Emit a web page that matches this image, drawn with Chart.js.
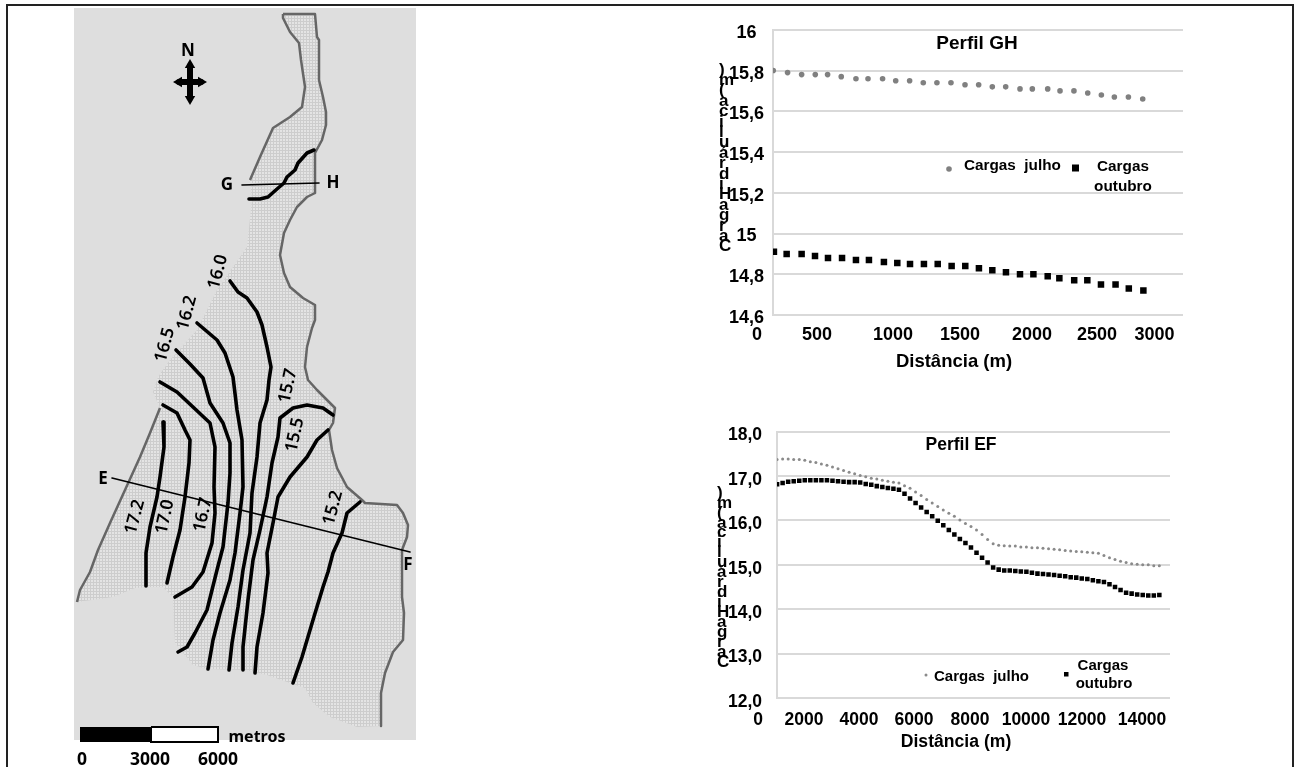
<!DOCTYPE html>
<html lang="pt">
<head>
<meta charset="utf-8">
<title>Perfis de carga hidráulica</title>
<script src="https://cdn.jsdelivr.net/npm/chart.js@4/dist/chart.umd.min.js"></script>
<style>
  body { margin: 0; background: #fff; overflow: hidden; }
  #moldura { position: absolute; left: 6px; top: 4px; width: 1284px; height: 770px; border: 2px solid #222; box-sizing: content-box; }
  canvas { position: absolute; }
  #mapa { left: 60px; top: 6px; }
  #perfilGH { left: 690px; top: 10px; }
  #perfilEF { left: 690px; top: 406px; }
</style>
</head>
<body>
<div id="moldura"></div>
<canvas id="mapa" width="360" height="761"></canvas>
<canvas id="perfilGH" width="560" height="370"></canvas>
<canvas id="perfilEF" width="560" height="360"></canvas>
<script>
// Perfil GH
const ghDistJulho = [123, 231, 337, 440, 533, 636, 747, 838, 948, 1047, 1152, 1255, 1358, 1464, 1570, 1673, 1776, 1877, 1985, 2078, 2194, 2287, 2392, 2496, 2599, 2697, 2803, 2911];
const ghCargaJulho = [15.80, 15.79, 15.78, 15.78, 15.78, 15.77, 15.76, 15.76, 15.76, 15.75, 15.75, 15.74, 15.74, 15.74, 15.73, 15.73, 15.72, 15.72, 15.71, 15.71, 15.71, 15.70, 15.70, 15.69, 15.68, 15.67, 15.67, 15.66];
const ghDistOutubro = [128, 224, 337, 438, 536, 642, 747, 845, 958, 1059, 1155, 1260, 1364, 1469, 1572, 1675, 1776, 1879, 1985, 2086, 2194, 2282, 2394, 2493, 2596, 2706, 2806, 2916];
const ghCargaOutubro = [14.91, 14.90, 14.90, 14.89, 14.88, 14.88, 14.87, 14.87, 14.86, 14.855, 14.85, 14.85, 14.85, 14.84, 14.84, 14.83, 14.82, 14.81, 14.80, 14.80, 14.79, 14.78, 14.77, 14.77, 14.75, 14.75, 14.73, 14.72];
const ghYValores = [14.6, 14.8, 15, 15.2, 15.4, 15.6, 15.8, 16];
const ghYRotulos = ['14,6', '14,8', '15', '15,2', '15,4', '15,6', '15,8', '16'];
const ghXValores = [0, 453, 1026, 1532, 2075, 2566, 3000];
const ghXRotulos = ['0', '500', '1000', '1500', '2000', '2500', '3000'];

// Perfil EF
const efDist = [1050, 1250, 1450, 1650, 1850, 2050, 2250, 2450, 2650, 2850, 3050, 3250, 3450, 3650, 3850, 4050, 4250, 4450, 4650, 4850, 5050, 5250, 5450, 5650, 5850, 6050, 6250, 6450, 6650, 6850, 7050, 7250, 7450, 7650, 7850, 8050, 8250, 8450, 8650, 8850, 9050, 9250, 9450, 9650, 9850, 10050, 10250, 10450, 10650, 10850, 11050, 11250, 11450, 11650, 11850, 12050, 12250, 12450, 12650, 12850, 13050, 13250, 13450, 13650, 13850, 14050, 14250, 14450, 14650, 14850];
const efCargaJulho = [17.37, 17.38, 17.38, 17.37, 17.37, 17.35, 17.32, 17.30, 17.27, 17.24, 17.20, 17.16, 17.12, 17.08, 17.05, 17.01, 16.98, 16.95, 16.93, 16.90, 16.88, 16.86, 16.84, 16.78, 16.72, 16.64, 16.56, 16.47, 16.39, 16.31, 16.23, 16.16, 16.09, 16.01, 15.93, 15.86, 15.78, 15.68, 15.57, 15.47, 15.44, 15.43, 15.42, 15.42, 15.40, 15.40, 15.38, 15.38, 15.37, 15.36, 15.35, 15.34, 15.32, 15.31, 15.30, 15.29, 15.28, 15.27, 15.26, 15.21, 15.16, 15.12, 15.08, 15.05, 15.02, 15.01, 15.00, 15.00, 14.98, 14.98];
const efCargaOutubro = [16.81, 16.84, 16.87, 16.88, 16.89, 16.90, 16.90, 16.90, 16.90, 16.90, 16.89, 16.88, 16.87, 16.86, 16.86, 16.85, 16.82, 16.80, 16.77, 16.75, 16.73, 16.71, 16.69, 16.60, 16.49, 16.39, 16.29, 16.19, 16.09, 15.99, 15.89, 15.78, 15.68, 15.58, 15.49, 15.39, 15.27, 15.16, 15.05, 14.94, 14.89, 14.87, 14.87, 14.86, 14.85, 14.84, 14.82, 14.80, 14.79, 14.78, 14.77, 14.75, 14.74, 14.72, 14.71, 14.69, 14.68, 14.65, 14.63, 14.61, 14.56, 14.50, 14.43, 14.37, 14.35, 14.33, 14.32, 14.31, 14.31, 14.32];
const efYValores = [12, 13, 14, 15, 16, 17, 18];
const efYRotulos = ['12,0', '13,0', '14,0', '15,0', '16,0', '17,0', '18,0'];
const efXValores = [361, 2022, 4007, 5993, 8014, 10036, 12058, 14224];
const efXRotulos = ['0', '2000', '4000', '6000', '8000', '10000', '12000', '14000'];

// Mapa: coordenadas
const mapaFundo = [[74, 8], [416, 8], [416, 740], [74, 740]];
const margemLeste = [[283, 14], [315, 14], [317, 37], [319, 40], [319, 80], [323, 97], [326, 112], [326, 125], [322, 140], [315, 153], [315, 193], [307, 197], [297, 207], [290, 220], [284, 233], [280, 255], [284, 273], [290, 287], [303, 298], [315, 305], [315, 320], [312, 328], [307, 347], [305, 367], [308, 380], [317, 390], [335, 408], [333, 423], [329, 430], [332, 450], [337, 468], [347, 487], [362, 500], [365, 503], [397, 505], [403, 513], [408, 525], [407, 537], [402, 550], [402, 597], [404, 613], [403, 640], [393, 652], [385, 673], [381, 693], [381, 726]];
const contornoSul = [[357, 727], [330, 717], [313, 703], [305, 688], [290, 683], [267, 675], [247, 670], [207, 669], [193, 665], [175, 643], [173, 597], [163, 587], [147, 587], [135, 588], [113, 597]];
const margemOeste = [[77, 602], [80, 590], [90, 572], [98, 550], [110, 523], [125, 490], [140, 457], [150, 433], [160, 408]];
const contornoNoroeste = [[153, 392], [158, 377], [170, 360], [197, 330], [217, 290], [247, 247], [252, 200]];
const margemNorte = [[250, 180], [260, 157], [273, 128], [290, 117], [302, 107], [305, 87], [301, 60], [299, 43], [290, 32], [283, 18], [283, 14]];
const isolinhaGH = [[249, 199], [260, 199], [268, 197], [277, 189], [284, 183], [287, 177], [295, 170], [298, 163], [307, 153], [314, 150]];
const isolinha172 = [[163, 422], [164, 447], [160, 477], [157, 497], [150, 527], [146, 553], [146, 586]];
const isolinha170 = [[163, 405], [177, 413], [185, 430], [190, 440], [189, 463], [185, 497], [180, 530], [173, 557], [167, 583]];
const isolinha167 = [[160, 382], [177, 392], [193, 407], [210, 423], [215, 447], [214, 487], [215, 513], [212, 543], [203, 572], [192, 587], [175, 597]];
const isolinha165 = [[176, 350], [190, 364], [203, 378], [210, 403], [223, 423], [230, 443], [230, 473], [228, 503], [223, 547], [217, 570], [207, 610], [195, 633], [187, 647], [178, 652]];
const isolinha162 = [[197, 323], [217, 340], [225, 353], [233, 377], [237, 410], [242, 440], [243, 487], [240, 513], [235, 553], [230, 580], [220, 613], [213, 640], [208, 669]];
const isolinha160 = [[230, 281], [238, 292], [247, 298], [257, 312], [262, 325], [267, 347], [271, 367], [269, 380], [267, 400], [260, 423], [257, 457], [252, 493], [250, 533], [243, 570], [238, 607], [232, 643], [229, 670]];
const isolinha157 = [[333, 415], [323, 408], [307, 405], [293, 408], [280, 418], [278, 437], [272, 463], [267, 497], [260, 530], [253, 560], [248, 600], [243, 647], [243, 670]];
const isolinha155 = [[328, 430], [317, 440], [307, 457], [290, 477], [278, 497], [273, 523], [267, 553], [268, 573], [263, 613], [257, 647], [255, 673]];
const isolinha152 = [[360, 502], [347, 513], [342, 533], [333, 553], [328, 572], [323, 587], [313, 620], [302, 657], [293, 683]];
const secaoGH = [[242, 185], [319, 183]];
const secaoEF = [[112, 478], [410, 552]];
const bussolaVertical = [[190, 66], [190, 98]];
const bussolaHorizontal = [[179, 82], [201, 82]];
const bussolaPontas = [[190, 65], [201, 82], [190, 99], [179, 82]];
const escalaPreta = [[80, 727], [151, 727], [151, 742], [80, 742]];
const escalaBranca = [[151, 727], [218, 727], [218, 742], [151, 742], [151, 727]];

const fonteMapa = '600 17.5px "Noto Sans"';
const fonteLetra = '700 17px "Noto Sans"';
const fonteEscala = '700 17.5px "Noto Sans"';
const letrasY = [')', 'm', '(', 'a', 'c', 'i', 'l', 'u', 'á', 'r', 'd', 'i', 'H', 'a', 'g', 'r', 'a', 'C'];

const pontos = arr => arr.map(p => ({ x: p[0], y: p[1] }));
const pares = (xs, ys) => xs.map((x, i) => ({ x: x, y: ys[i] }));
const negrito = px => 'bold ' + px + 'px "Liberation Sans"';

// textos e marcas que ficam fora do fluxo normal do Chart.js
function rotulos(ox, oy, textos, extra) {
    return {
        id: 'rotulos',
        afterDraw(chart) {
            const ctx = chart.ctx;
            ctx.save();
            ctx.translate(-ox, -oy);
            ctx.fillStyle = '#000';
            textos.forEach(t => {
                ctx.save();
                ctx.font = t.fonte;
                ctx.textAlign = t.alinha || 'center';
                ctx.textBaseline = 'middle';
                ctx.translate(t.x, t.y);
                if (t.rot) ctx.rotate(t.rot * Math.PI / 180);
                ctx.fillText(t.txt, 0, 0);
                ctx.restore();
            });
            if (extra) extra(ctx);
            ctx.restore();
        }
    };
}

function letrasEmPilha(x, yTopo, passo) {
    return letrasY.map((l, i) => ({ txt: l, x: x, y: yTopo + i * passo, alinha: 'left', fonte: negrito(17) }));
}

function escalasPerfil(cfg) {
    const fonteTick = { family: 'Liberation Sans', size: cfg.tamanho, weight: 'bold' };
    return {
        x: {
            type: 'linear', min: cfg.xMin, max: cfg.xMax,
            grid: { display: false, drawTicks: false }, border: { display: false },
            afterBuildTicks: s => { s.ticks = cfg.xValores.map(v => ({ value: v })); },
            afterFit: s => { s.height = cfg.alturaX; },
            ticks: {
                autoSkip: false, maxRotation: 0, padding: cfg.padX, color: '#000', font: fonteTick,
                callback: (v, i) => cfg.xRotulos[i]
            }
        },
        y: {
            type: 'linear', min: cfg.yMin, max: cfg.yMax,
            grid: { color: '#d9d9d9', lineWidth: 2, drawTicks: false },
            border: { display: true, color: '#d9d9d9', width: 2 },
            afterBuildTicks: s => { s.ticks = cfg.yValores.map(v => ({ value: v })); },
            afterFit: s => { s.width = cfg.larguraY; },
            ticks: {
                crossAlign: 'center', padding: cfg.padY, labelOffset: cfg.desvioY, color: '#000', font: fonteTick,
                callback: (v, i) => cfg.yRotulos[i]
            }
        }
    };
}

const opcoesBase = {
    responsive: false,
    animation: false,
    events: []
};

new Chart(document.getElementById('perfilGH'), {
    type: 'scatter',
    data: {
        datasets: [
            { label: 'Cargas julho', data: pares(ghDistJulho, ghCargaJulho), pointStyle: 'circle', pointRadius: 2.8, borderWidth: 0, backgroundColor: '#808080' },
            { label: 'Cargas outubro', data: pares(ghDistOutubro, ghCargaOutubro), pointStyle: 'rect', pointRadius: 4.6, borderWidth: 0, backgroundColor: '#000' }
        ]
    },
    options: {
        ...opcoesBase,
        layout: { autoPadding: false, padding: { top: 18, right: 67 } },
        plugins: { legend: { display: false }, tooltip: { enabled: false } },
        scales: escalasPerfil({
            tamanho: 18, xMin: 121, xMax: 3215, xValores: ghXValores, xRotulos: ghXRotulos, alturaX: 65, padX: 9,
            yMin: 14.6, yMax: 16, yValores: ghYValores, yRotulos: ghYRotulos, larguraY: 83, padY: 9, desvioY: 3
        })
    },
    plugins: [rotulos(690, 10, [
        { txt: 'Perfil GH', x: 977, y: 44, fonte: negrito(19) },
        { txt: 'Distância (m)', x: 954, y: 362, fonte: negrito(18.5) },
        { txt: 'Cargas  julho', x: 964, y: 166, alinha: 'left', fonte: negrito(15.3) },
        { txt: 'Cargas', x: 1123, y: 167, fonte: negrito(15.3) },
        { txt: 'outubro', x: 1123, y: 187, fonte: negrito(15.3) },
        ...letrasEmPilha(719, 70, 10.4)
    ], ctx => {
        ctx.fillStyle = '#808080';
        ctx.beginPath();
        ctx.arc(949, 169, 2.8, 0, Math.PI * 2);
        ctx.fill();
        ctx.fillStyle = '#000';
        ctx.fillRect(1072, 164.5, 7, 7);
    })]
});

new Chart(document.getElementById('perfilEF'), {
    type: 'scatter',
    data: {
        datasets: [
            { label: 'Cargas julho', data: pares(efDist, efCargaJulho), pointStyle: 'circle', pointRadius: 1.5, borderWidth: 0, backgroundColor: '#8a8a8a' },
            { label: 'Cargas outubro', data: pares(efDist, efCargaOutubro), pointStyle: 'rect', pointRadius: 3.2, borderWidth: 0, backgroundColor: '#000' }
        ]
    },
    options: {
        ...opcoesBase,
        layout: { autoPadding: false, padding: { top: 18, right: 80 } },
        plugins: { legend: { display: false }, tooltip: { enabled: false } },
        scales: escalasPerfil({
            tamanho: 17.5, xMin: 1047, xMax: 15235, xValores: efXValores, xRotulos: efXRotulos, alturaX: 68, padX: 12,
            yMin: 12, yMax: 18, yValores: efYValores, yRotulos: efYRotulos, larguraY: 87, padY: 15, desvioY: 4
        })
    },
    plugins: [rotulos(690, 406, [
        { txt: 'Perfil EF', x: 961, y: 445, fonte: negrito(17.5) },
        { txt: 'Distância (m)', x: 956, y: 742, fonte: negrito(17.6) },
        { txt: 'Cargas  julho', x: 934, y: 677, alinha: 'left', fonte: negrito(15) },
        { txt: 'Cargas', x: 1103, y: 666, fonte: negrito(15) },
        { txt: 'outubro', x: 1104, y: 684, fonte: negrito(15) },
        ...letrasEmPilha(717, 493, 9.95)
    ], ctx => {
        ctx.fillStyle = '#8a8a8a';
        ctx.beginPath();
        ctx.arc(926, 675, 1.5, 0, Math.PI * 2);
        ctx.fill();
        ctx.fillStyle = '#000';
        ctx.fillRect(1064, 672, 4.5, 4.5);
    })]
});

// malha da área modelada
function padraoMalha() {
    const c = document.createElement('canvas');
    c.width = c.height = 3;
    const g = c.getContext('2d');
    g.fillStyle = '#e4e4e4';
    g.fillRect(0, 0, 3, 3);
    g.fillStyle = '#cdcdcd';
    g.fillRect(0, 0, 3, 1);
    g.fillRect(0, 0, 1, 3);
    return document.getElementById('mapa').getContext('2d').createPattern(c, 'repeat');
}

const areaModelada = [...margemLeste, ...contornoSul, ...margemOeste, ...contornoNoroeste, ...margemNorte];
const linhaPreta = (dados, largura) => ({ data: pontos(dados), showLine: true, pointRadius: 0, borderColor: '#000', borderWidth: largura, borderCapStyle: 'round', borderJoinStyle: 'round', fill: false });
const margem = dados => ({ data: pontos(dados), showLine: true, pointRadius: 0, borderColor: '#666', borderWidth: 2.5, borderJoinStyle: 'round', fill: false });
const poligono = (dados, cor) => ({ data: pontos(dados), showLine: true, pointRadius: 0, borderWidth: 0, backgroundColor: cor, fill: 'shape' });

const camadasMapa = [
    poligono(mapaFundo, '#dedede'),
    poligono(areaModelada, padraoMalha()),
    margem(margemLeste), margem(margemOeste), margem(margemNorte),
    ...[isolinhaGH, isolinha172, isolinha170, isolinha167, isolinha165, isolinha162, isolinha160, isolinha157, isolinha155, isolinha152].map(d => linhaPreta(d, 3.6)),
    linhaPreta(secaoGH, 1.6), linhaPreta(secaoEF, 1.6),
    linhaPreta(bussolaVertical, 6), linhaPreta(bussolaHorizontal, 6),
    { data: pontos(bussolaPontas), pointStyle: 'triangle', pointRadius: 6, pointRotation: [0, 90, 180, 270], borderWidth: 0, backgroundColor: '#000' },
    poligono(escalaPreta, '#000'),
    { ...poligono(escalaBranca, '#fff'), borderColor: '#000', borderWidth: 2 }
];
// o Chart.js desenha primeiro a ordem maior
camadasMapa.forEach((d, i) => { d.order = camadasMapa.length - i; });

new Chart(document.getElementById('mapa'), {
    type: 'scatter',
    data: { datasets: camadasMapa },
    options: {
        ...opcoesBase,
        layout: { autoPadding: false, padding: 0 },
        plugins: { legend: { display: false }, tooltip: { enabled: false } },
        scales: {
            x: { type: 'linear', min: 60, max: 420, display: false },
            y: { type: 'linear', min: 6, max: 767, reverse: true, display: false }
        }
    },
    plugins: [rotulos(60, 6, [
        { txt: 'N', x: 188, y: 51, fonte: fonteLetra },
        { txt: 'G', x: 227, y: 185, fonte: fonteLetra },
        { txt: 'H', x: 333, y: 183, fonte: fonteLetra },
        { txt: 'E', x: 103, y: 479, fonte: fonteLetra },
        { txt: 'F', x: 408, y: 565, fonte: fonteLetra },
        { txt: '16.0', x: 218, y: 272, rot: -75, fonte: fonteMapa },
        { txt: '16.2', x: 187, y: 313, rot: -75, fonte: fonteMapa },
        { txt: '16.5', x: 165, y: 345, rot: -75, fonte: fonteMapa },
        { txt: '15.7', x: 288, y: 386, rot: -78, fonte: fonteMapa },
        { txt: '15.5', x: 295, y: 435, rot: -78, fonte: fonteMapa },
        { txt: '15.2', x: 333, y: 508, rot: -75, fonte: fonteMapa },
        { txt: '17.2', x: 135, y: 517, rot: -75, fonte: fonteMapa },
        { txt: '17.0', x: 165, y: 517, rot: -78, fonte: fonteMapa },
        { txt: '16.7', x: 203, y: 515, rot: -78, fonte: fonteMapa },
        { txt: 'metros', x: 257, y: 737, fonte: '700 16px "Noto Sans"' },
        { txt: '0', x: 82, y: 760, fonte: fonteEscala },
        { txt: '3000', x: 150, y: 760, fonte: fonteEscala },
        { txt: '6000', x: 218, y: 760, fonte: fonteEscala }
    ])]
});
</script>
</body>
</html>
